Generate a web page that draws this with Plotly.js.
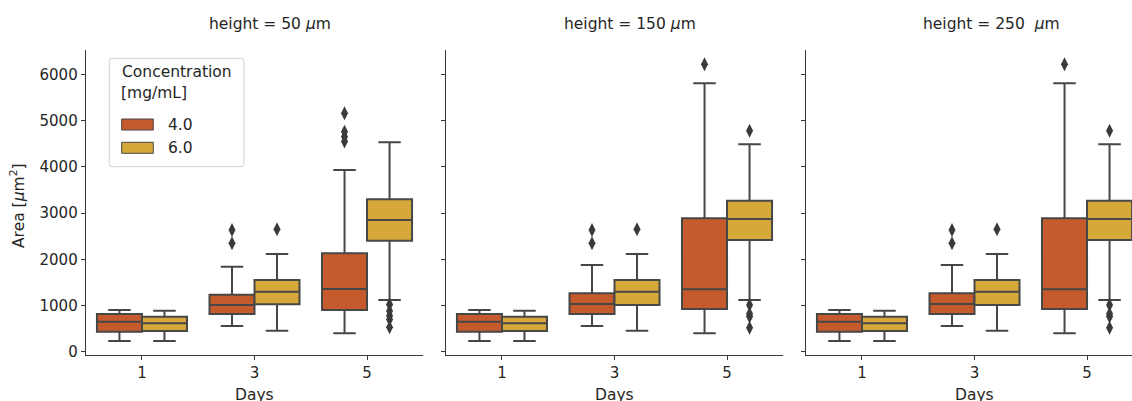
<!DOCTYPE html>
<html><head><meta charset="utf-8">
<script src="https://cdn.plot.ly/plotly-3.0.1.min.js"></script>
<style>html,body{margin:0;padding:0;overflow:hidden;background:#fff}#chart{width:1144px;height:401px}</style>
</head><body><div id="chart"></div><script>
// ---- data ----
const days = ["1", "3", "5"];
const heights = ["50", "150", "250"];
const concentrations = ["4.0", "6.0"];
const yTicks = [0, 1000, 2000, 3000, 4000, 5000, 6000];

// height = 50 µm
const lower_50_c4  = [232, 556, 398];
const q1_50_c4     = [433, 816, 903];
const median_50_c4 = [650, 1011, 1357];
const q3_50_c4     = [816, 1234, 2130];
const upper_50_c4  = [903, 1840, 3933];
const outDay_50_c4 = ["3", "3", "5", "5", "5", "5"];
const outVal_50_c4 = [2634, 2346, 5160, 4760, 4650, 4550];

const lower_50_c6  = [232, 455, 1119];
const q1_50_c6     = [448, 1026, 2403];
const median_50_c6 = [615, 1299, 2851];
const q3_50_c6     = [758, 1552, 3299];
const upper_50_c6  = [888, 2115, 4532];
const outDay_50_c6 = ["3", "5", "5", "5", "5", "5"];
const outVal_50_c6 = [2649, 1020, 880, 780, 700, 530];

// height = 150 µm
const lower_150_c4  = [232, 556, 398];
const q1_150_c4     = [433, 816, 924];
const median_150_c4 = [650, 1032, 1350];
const q3_150_c4     = [816, 1264, 2887];
const upper_150_c4  = [903, 1877, 5810];
const outDay_150_c4 = ["3", "3", "5"];
const outVal_150_c4 = [2634, 2346, 6220];

const lower_150_c6  = [232, 455, 1119];
const q1_150_c6     = [448, 1011, 2418];
const median_150_c6 = [615, 1299, 2872];
const q3_150_c6     = [758, 1552, 3269];
const upper_150_c6  = [888, 2115, 4488];
const outDay_150_c6 = ["3", "5", "5", "5", "5", "5"];
const outVal_150_c6 = [2649, 4784, 1010, 820, 760, 520];

// height = 250 µm
const lower_250_c4  = [232, 556, 398];
const q1_250_c4     = [433, 816, 924];
const median_250_c4 = [650, 1032, 1350];
const q3_250_c4     = [816, 1264, 2887];
const upper_250_c4  = [903, 1877, 5810];
const outDay_250_c4 = ["3", "3", "5"];
const outVal_250_c4 = [2634, 2346, 6220];

const lower_250_c6  = [232, 455, 1119];
const q1_250_c6     = [448, 1011, 2418];
const median_250_c6 = [615, 1299, 2872];
const q3_250_c6     = [758, 1552, 3269];
const upper_250_c6  = [888, 2115, 4488];
const outDay_250_c6 = ["3", "5", "5", "5", "5", "5"];
const outVal_250_c6 = [2649, 4784, 1010, 820, 760, 520];

// ---- style ----
const W = 1144, H = 401;
const COLORS = ["#C55B2D", "#D6A83A"];
const EDGE = "#474747";
const TXT = "#262626";
const FONT = "DejaVu Sans, sans-serif";
const px = x => x / W;
const py = y => 1 - y / H;

const stats = {
  "50":  [[lower_50_c4, q1_50_c4, median_50_c4, q3_50_c4, upper_50_c4, outDay_50_c4, outVal_50_c4],
          [lower_50_c6, q1_50_c6, median_50_c6, q3_50_c6, upper_50_c6, outDay_50_c6, outVal_50_c6]],
  "150": [[lower_150_c4, q1_150_c4, median_150_c4, q3_150_c4, upper_150_c4, outDay_150_c4, outVal_150_c4],
          [lower_150_c6, q1_150_c6, median_150_c6, q3_150_c6, upper_150_c6, outDay_150_c6, outVal_150_c6]],
  "250": [[lower_250_c4, q1_250_c4, median_250_c4, q3_250_c4, upper_250_c4, outDay_250_c4, outVal_250_c4],
          [lower_250_c6, q1_250_c6, median_250_c6, q3_250_c6, upper_250_c6, outDay_250_c6, outVal_250_c6]]
};

const traces = [];
heights.forEach((h, p) => {
  const xa = p === 0 ? "x" : "x" + (p + 1);
  const ya = p === 0 ? "y" : "y" + (p + 1);
  concentrations.forEach((c, ci) => {
    const s = stats[h][ci];
    traces.push({
      type: "box",
      orientation: "v",
      name: c,
      offsetgroup: c,
      showlegend: false,
      x: days,
      lowerfence: s[0], q1: s[1], median: s[2], q3: s[3], upperfence: s[4],
      whiskerwidth: 0.5,
      fillcolor: COLORS[ci],
      line: {color: EDGE, width: 2},
      xaxis: xa, yaxis: ya,
      hoverinfo: "skip"
    });
  });
  concentrations.forEach((c, ci) => {
    const s = stats[h][ci];
    traces.push({
      type: "scatter",
      mode: "markers",
      name: c + " outliers",
      offsetgroup: c,
      showlegend: false,
      x: s[5], y: s[6],
      marker: {symbol: "diamond-tall", size: 10, color: "#3a3a3a", line: {width: 0}},
      xaxis: xa, yaxis: ya,
      hoverinfo: "skip"
    });
  });
});

const xDomains = [[85.7, 423.3], [445.7, 783.3], [805.7, 1143.3]];
const yDomain = [py(355), py(50)];

const axisBase = {
  showline: true, linecolor: "#3a3a3a", linewidth: 1,
  ticks: "outside", ticklen: 4, tickwidth: 1, tickcolor: "#3a3a3a",
  showgrid: false, zeroline: false,
  tickfont: {family: FONT, size: 15, color: TXT}
};

const layout = {
  width: W, height: H,
  margin: {l: 0, r: 0, t: 0, b: 0},
  paper_bgcolor: "#fff", plot_bgcolor: "#fff",
  boxmode: "group", boxgap: 0.2, boxgroupgap: 0,
  scattermode: "group", scattergap: 0.2,
  showlegend: false,
  font: {family: FONT, color: TXT},
  annotations: [],
  shapes: []
};

heights.forEach((h, p) => {
  const sfx = p === 0 ? "" : String(p + 1);
  layout["xaxis" + sfx] = Object.assign({}, axisBase, {
    type: "category", domain: [px(xDomains[p][0]), px(xDomains[p][1])],
    categoryorder: "array", categoryarray: days,
    range: [-0.5, 2.5], anchor: "y" + sfx
  });
  layout["yaxis" + sfx] = Object.assign({}, axisBase, {
    domain: yDomain, range: [-71, 6530], anchor: "x" + sfx,
    tickvals: yTicks, showticklabels: p === 0, ticksuffix: "\u00a0",
    matches: p === 0 ? undefined : "y"
  });
  // x-axis title "Days" (partly cut off at the bottom edge, as in the reference)
  layout.annotations.push({
    xref: "paper", yref: "paper", x: px((xDomains[p][0] + xDomains[p][1]) / 2), y: py(395),
    xanchor: "center", yanchor: "middle", showarrow: false,
    text: "Days", font: {family: FONT, size: 15.5, color: TXT}
  });
});

// panel titles
const titleX = [270, 629.5, 991.7];
const titleText = ["height = 50 <i>μ</i>m", "height = 150 <i>μ</i>m", "height = 250\u00a0 <i>μ</i>m"];
titleText.forEach((t, i) => {
  layout.annotations.push({
    xref: "paper", yref: "paper", x: px(titleX[i]), y: py(24),
    xanchor: "center", yanchor: "middle", showarrow: false,
    text: t, font: {family: FONT, size: 15.5, color: TXT}
  });
});

// y-axis title
layout.annotations.push({
  xref: "paper", yref: "paper", x: px(17.5), y: py(205.5),
  xanchor: "center", yanchor: "middle", showarrow: false, textangle: -90,
  text: "Area [<i>μ</i>m<sup>2</sup>]", font: {family: FONT, size: 15.5, color: TXT}
});

// legend (drawn)
const L = {x0: 109.3, x1: 244, y0: 58.3, y1: 166.7, r: 3};
const legPath = () => {
  const {x0, x1, y0, y1, r} = L;
  return `M ${px(x0 + r)} ${py(y0)} L ${px(x1 - r)} ${py(y0)} Q ${px(x1)} ${py(y0)} ${px(x1)} ${py(y0 + r)} ` +
    `L ${px(x1)} ${py(y1 - r)} Q ${px(x1)} ${py(y1)} ${px(x1 - r)} ${py(y1)} L ${px(x0 + r)} ${py(y1)} ` +
    `Q ${px(x0)} ${py(y1)} ${px(x0)} ${py(y1 - r)} L ${px(x0)} ${py(y0 + r)} Q ${px(x0)} ${py(y0)} ${px(x0 + r)} ${py(y0)} Z`;
};
layout.shapes.push({type: "path", xref: "paper", yref: "paper", path: legPath(),
  fillcolor: "rgba(255,255,255,0.8)", line: {color: "#d0d0d0", width: 1}});
layout.annotations.push({xref: "paper", yref: "paper", x: px(120), y: py(71.7), xanchor: "left", yanchor: "middle",
  showarrow: false, text: "Concentration", font: {family: FONT, size: 15.5, color: TXT}});
layout.annotations.push({xref: "paper", yref: "paper", x: px(118.5), y: py(92.7), xanchor: "left", yanchor: "middle",
  showarrow: false, text: "[mg/mL]", font: {family: FONT, size: 15.5, color: TXT}});
const patchY = [[119, 130], [142.3, 153.3]];
const labelY = [124.5, 148];
concentrations.forEach((c, i) => {
  layout.shapes.push({type: "rect", xref: "paper", yref: "paper",
    x0: px(121.7), x1: px(153.3), y0: py(patchY[i][1]), y1: py(patchY[i][0]),
    fillcolor: COLORS[i], line: {color: EDGE, width: 1}});
  layout.annotations.push({xref: "paper", yref: "paper", x: px(165.5), y: py(labelY[i]), xanchor: "left", yanchor: "middle",
    showarrow: false, text: c, font: {family: FONT, size: 15.5, color: TXT}});
});

Plotly.newPlot("chart", traces, layout, {staticPlot: true, displayModeBar: false});
</script></body></html>
